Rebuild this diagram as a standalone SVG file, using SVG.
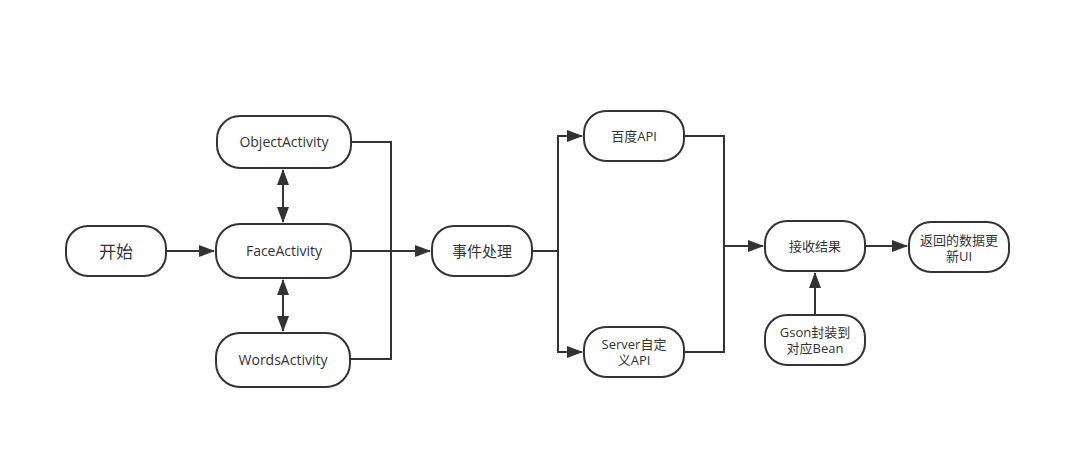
<svg xmlns="http://www.w3.org/2000/svg" width="1071" height="449" viewBox="0 0 1071 449">
<style>
.n{fill:#fff;stroke:#333;stroke-width:2}
.t{font-family:"Open Sans","Noto Sans CJK SC",sans-serif;font-size:13px;fill:#333;text-anchor:middle}
.e{font-size:14px}
.c{fill:none;stroke:#333;stroke-width:2}
</style>
<defs>
<marker id="ah" viewBox="0 0 16 12" refX="15" refY="6" markerWidth="16" markerHeight="12" markerUnits="userSpaceOnUse" orient="auto-start-reverse">
<path d="M0,0 L16,6 L0,12 Z" fill="#333"/>
</marker>
</defs>
<rect width="1071" height="449" fill="#fff"/>
<g id="connectors">
<path class="c" d="M166,251 H214" marker-end="url(#ah)"/>
<path class="c" d="M283,170 V222" marker-start="url(#ah)" marker-end="url(#ah)"/>
<path class="c" d="M283,280 V331" marker-start="url(#ah)" marker-end="url(#ah)"/>
<path class="c" d="M351,142 H391 V359 H350"/>
<path class="c" d="M351,251 H430" marker-end="url(#ah)"/>
<path class="c" d="M532,251 H558 V136 H582" marker-end="url(#ah)"/>
<path class="c" d="M558,251 V352 H582" marker-end="url(#ah)"/>
<path class="c" d="M684,136 H724 V352 H684"/>
<path class="c" d="M724,246 H763" marker-end="url(#ah)"/>
<path class="c" d="M865,246 H907" marker-end="url(#ah)"/>
<path class="c" d="M815,315 V273" marker-end="url(#ah)"/>
</g>
<g id="start"><rect class="n" x="66" y="226" width="100" height="50" rx="22"/><text class="t" x="116" y="258" style="font-size:17px">开始</text></g>
<g id="object"><rect class="n" x="217" y="116" width="134" height="52" rx="23"/><text class="t e" x="284" y="147">ObjectActivity</text></g>
<g id="face"><rect class="n" x="216" y="224" width="135" height="54" rx="24"/><text class="t e" x="284" y="256">FaceActivity</text></g>
<g id="words"><rect class="n" x="216" y="333" width="134" height="54" rx="24"/><text class="t e" x="283" y="365">WordsActivity</text></g>
<g id="event"><rect class="n" x="432" y="226" width="100" height="50" rx="22"/><text class="t" x="482" y="257" style="font-size:15px">事件处理</text></g>
<g id="baidu"><rect class="n" x="584" y="111" width="100" height="50" rx="22"/><text class="t" x="634" y="141">百度API</text></g>
<g id="server"><rect class="n" x="584" y="327" width="100" height="50" rx="22"/><text class="t" x="634" y="349">Server自定</text><text class="t" x="634" y="365">义API</text></g>
<g id="receive"><rect class="n" x="765" y="221" width="100" height="50" rx="22"/><text class="t" x="815" y="251">接收结果</text></g>
<g id="gson"><rect class="n" x="765" y="315" width="100" height="50" rx="22"/><text class="t" x="815" y="337">Gson封装到</text><text class="t" x="815" y="353">对应Bean</text></g>
<g id="update"><rect class="n" x="909" y="222" width="100" height="50" rx="22"/><text class="t" x="959" y="245">返回的数据更</text><text class="t" x="959" y="261">新UI</text></g>
</svg>
